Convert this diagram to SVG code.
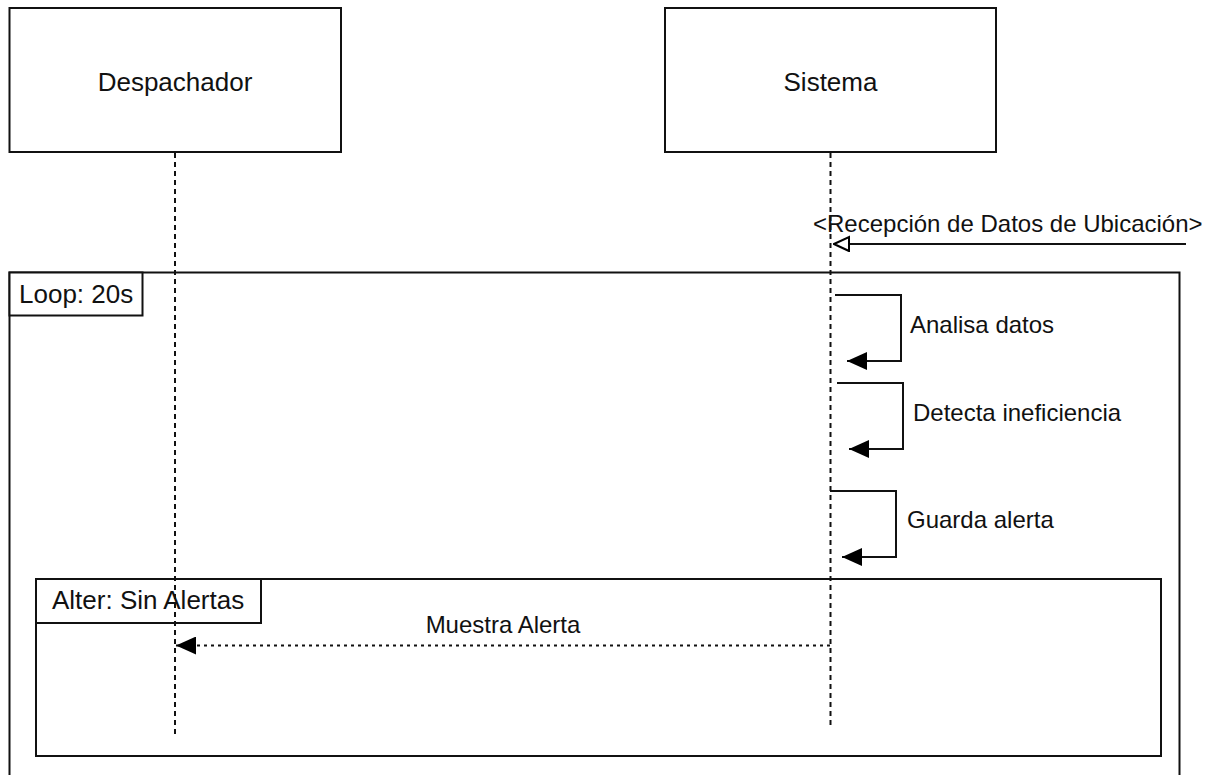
<svg xmlns="http://www.w3.org/2000/svg" width="1216" height="775" viewBox="0 0 1216 775">
<style>
.box{fill:#fff;stroke:#111;stroke-width:2}
.frame{fill:none;stroke:#111;stroke-width:2}
.life{fill:none;stroke:#111;stroke-width:2;stroke-dasharray:5 4}
.msg{fill:none;stroke:#111;stroke-width:2}
.ret{fill:none;stroke:#111;stroke-width:2;stroke-dasharray:3 4}
.t26{font-family:"Liberation Sans",Arial,sans-serif;font-size:26px;fill:#111}
.t24{font-family:"Liberation Sans",Arial,sans-serif;font-size:24px;fill:#111}
</style>
<defs>
<marker id="filled" viewBox="0 0 20 18" refX="20" refY="9" markerWidth="20" markerHeight="18" markerUnits="userSpaceOnUse" orient="auto">
<path d="M0,0 L20,9 L0,18 Z" fill="#000"/>
</marker>
<marker id="open" viewBox="0 0 18 18" refX="17" refY="8" markerWidth="18" markerHeight="18" markerUnits="userSpaceOnUse" orient="auto">
<path d="M2,1 L17,8 L2,15 Z" fill="#fff" stroke="#000" stroke-width="2"/>
</marker>
</defs>
<rect width="1216" height="775" fill="#fff"/>
<g id="loop-frame">
<rect class="frame" x="9.5" y="272.5" width="1170" height="520"/>
<rect class="box" x="9.5" y="272.5" width="133" height="43"/>
<text class="t26" x="19" y="303">Loop: 20s</text>
</g>
<g id="alter-frame">
<rect class="frame" x="36" y="579" width="1125" height="177"/>
<rect class="box" x="36" y="579" width="225" height="44"/>
<text class="t26" x="52" y="609">Alter: Sin Alertas</text>
</g>
<g id="despachador">
<rect class="box" x="9.5" y="8" width="331.5" height="144"/>
<text class="t26" x="175" y="91" text-anchor="middle">Despachador</text>
<line class="life" x1="175" y1="153" x2="175" y2="736"/>
</g>
<g id="sistema">
<rect class="box" x="665" y="8" width="331" height="144"/>
<text class="t26" x="830.5" y="91" text-anchor="middle">Sistema</text>
<line class="life" x1="830.5" y1="153" x2="830.5" y2="728"/>
</g>
<g id="connectors">
<line class="msg" x1="1186" y1="244" x2="834" y2="244" marker-end="url(#open)"/>
<text class="t24" x="813" y="232">&lt;Recepción de Datos de Ubicación&gt;</text>
<polyline class="msg" points="835,295 901,295 901,361 847,361" marker-end="url(#filled)"/>
<text class="t24" x="910" y="333">Analisa datos</text>
<polyline class="msg" points="837,383 903,383 903,449 849,449" marker-end="url(#filled)"/>
<text class="t24" x="913" y="421">Detecta ineficiencia</text>
<polyline class="msg" points="830,491 896,491 896,557 842,557" marker-end="url(#filled)"/>
<text class="t24" x="907" y="528">Guarda alerta</text>
<line class="ret" x1="830" y1="645.5" x2="176" y2="645.5" marker-end="url(#filled)"/>
<text class="t24" x="503" y="633" text-anchor="middle">Muestra Alerta</text>
</g>
</svg>
